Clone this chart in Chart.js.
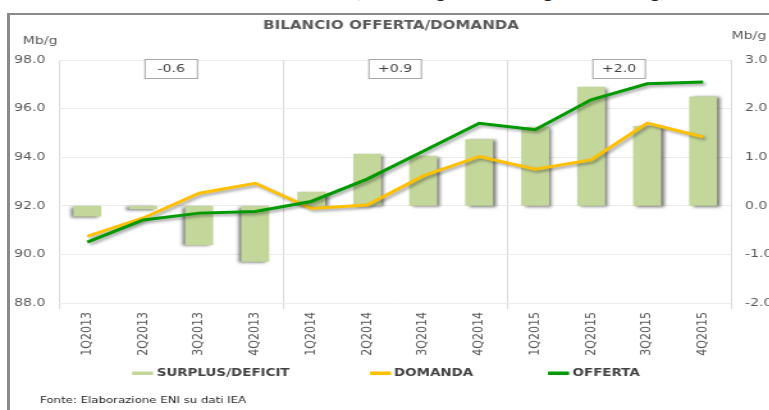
<!DOCTYPE html>
<html>
<head>
<meta charset="utf-8">
<script src="https://cdn.jsdelivr.net/npm/chart.js@4.4.1/dist/chart.umd.min.js"></script>
<style>
  html, body { margin: 0; padding: 0; background: #fff; }
  #pagina { position: relative; width: 769px; height: 410px; overflow: hidden; background: #fff; }
  #cornice { position: absolute; left: 7px; top: 13px; width: 800px; height: 420px;
    border-top: 2px solid #8a8a8a; border-left: 3px solid #8a8a8a; }
  #sopra { position: absolute; left: 354px; top: -24px; font: italic 22px 'Liberation Serif', serif;
    color: #222; white-space: nowrap; }
  /* il grafico originale è stirato in orizzontale */
  #scala { position: absolute; left: 0; top: 0; width: 620px; height: 410px;
    transform: scaleX(1.28); transform-origin: 0 0; }
</style>
</head>
<body>
<div id="pagina">
  <div id="sopra">(-0,6 Mb/g; +0,9 Mb/g; +2,0 Mb/g)</div>
  <div id="cornice"></div>
  <div id="scala"><canvas id="chartBilancio"></canvas></div>
</div>
<script>
/* =====================================================================
   Bilancio offerta/domanda petrolio — trimestri 2013-2015
   ===================================================================== */
const trimestri = ['1Q2013', '2Q2013', '3Q2013', '4Q2013', '1Q2014', '2Q2014',
                   '3Q2014', '4Q2014', '1Q2015', '2Q2015', '3Q2015', '4Q2015'];
const surplus = [-0.22, -0.07, -0.81, -1.15, 0.29, 1.07, 1.03, 1.37, 1.62, 2.45, 1.64, 2.25];
const domanda = [90.74, 91.50, 92.52, 92.93, 91.89, 92.03, 93.23, 94.03, 93.51, 93.89, 95.40, 94.83];
const offerta = [90.51, 91.42, 91.70, 91.77, 92.18, 93.10, 94.25, 95.40, 95.13, 96.36, 97.02, 97.09];
const mediaAnnua = ['-0.6', '+0.9', '+2.0'];   // saldo medio per anno
const titolo = 'BILANCIO OFFERTA/DOMANDA';
const unita = 'Mb/g';
const fonte = 'Fonte: Elaborazione ENI su dati IEA';

const COR = { barra: '#c4d79b', domanda: '#ffc000', offerta: '#009900', testo: '#595959', griglia: '#ececec', sezioni: '#d9d9d9' };
const FONT = '"DejaVu Sans", Verdana, sans-serif';

// ombre sotto barre e linee, come nell'originale
const ombre = {
  id: 'ombre',
  beforeDatasetDraw(chart, args) {
    const ctx = chart.ctx;
    const ds = chart.data.datasets[args.index];
    if (ds.type === 'bar') {
      args.meta.data.forEach((el, i) => {
        ctx.save();
        ctx.shadowColor = 'rgba(0,0,0,0.55)';
        ctx.shadowBlur = 3;
        ctx.shadowOffsetX = surplus[i] < 0 ? -2.5 : 2.5;
        ctx.shadowOffsetY = 1;
        el.draw(ctx);
        ctx.restore();
      });
      return false;
    }
    ctx.save();
    ctx.shadowColor = 'rgba(0,0,0,0.35)';
    ctx.shadowBlur = 3; ctx.shadowOffsetX = 2; ctx.shadowOffsetY = 2;
  },
  afterDatasetDraw(chart) { chart.ctx.restore(); }
};

// titolo, unità, box con la media annua, legenda e fonte
const testi = {
  id: 'testi',
  afterDatasetsDraw(chart) {
    const { ctx, scales: { x } } = chart;
    ctx.save();
    ctx.fillStyle = COR.testo;
    ctx.font = `bold 11.8px ${FONT}`;
    ctx.textAlign = 'center'; ctx.textBaseline = 'middle';
    ctx.fillText(titolo, 305.5, 25.5);

    ctx.font = `11px ${FONT}`;
    ctx.textAlign = 'left'; ctx.textBaseline = 'alphabetic';
    ctx.fillText(unita, 17.7, 44);
    ctx.fillText(unita, 571.6, 39);

    // box media annua
    ctx.textAlign = 'center'; ctx.textBaseline = 'middle';
    mediaAnnua.forEach((t, k) => {
      const cx = x.getPixelForValue(k * 4 + 1.5);
      const w = 41, h = 19, top = 59.5;
      ctx.fillStyle = '#fff';
      ctx.fillRect(cx - w / 2, top, w, h);
      ctx.strokeStyle = '#a6a6a6'; ctx.lineWidth = 1;
      ctx.strokeRect(cx - w / 2, top, w, h);
      ctx.fillStyle = '#404040';
      ctx.fillText(t, cx, top + h / 2 + 0.5);
    });

    // legenda
    const posLeg = [[103.1, 122.4], [289, 307.8], [428.1, 447.3]];
    ctx.font = `bold 10.5px ${FONT}`;
    ctx.textAlign = 'left';
    chart.data.datasets.forEach((ds, i) => {
      const [xs, xt] = posLeg[i];
      ctx.fillStyle = ds.legendColor;
      ctx.fillRect(xs, 371.5, 16.5, 3.5);
      ctx.fillStyle = '#404040';
      ctx.fillText(ds.label, xt, 373.5);
    });

    ctx.font = `9.2px ${FONT}`;
    ctx.fillStyle = '#262626';
    ctx.textBaseline = 'alphabetic';
    ctx.fillText(fonte, 31.25, 402.5);
    ctx.restore();
  }
};

new Chart(document.getElementById('chartBilancio'), {
  data: {
    labels: trimestri,
    datasets: [
      { type: 'bar', label: 'SURPLUS/DEFICIT', data: surplus, yAxisID: 'y1', backgroundColor: COR.barra,
        legendColor: COR.barra, barPercentage: 0.5, categoryPercentage: 1, order: 3 },
      { type: 'line', label: 'DOMANDA', data: domanda, yAxisID: 'y', borderColor: COR.domanda,
        legendColor: COR.domanda, borderWidth: 3, pointRadius: 0, tension: 0, order: 2 },
      { type: 'line', label: 'OFFERTA', data: offerta, yAxisID: 'y', borderColor: COR.offerta,
        legendColor: COR.offerta, borderWidth: 3, pointRadius: 0, tension: 0, order: 1 }
    ]
  },
  plugins: [ombre, testi],
  options: {
    responsive: true, maintainAspectRatio: false, animation: false,
    layout: { padding: { left: 0, right: 5.6, top: 60, bottom: 51.3 } },
    plugins: { legend: { display: false }, tooltip: { enabled: false } },
    scales: {
      x: {
        offset: true,
        grid: { offset: true, tickLength: 6, lineWidth: 1,
          color: c => (c.index === undefined || c.index % 4 === 0) ? COR.sezioni : 'transparent' },
        border: { display: false },
        ticks: { autoSkip: false, minRotation: 90, maxRotation: 90, padding: 3,
          color: COR.testo, font: { family: FONT, size: 11 } }
      },
      y: {
        position: 'left', min: 88, max: 98,
        grid: { color: COR.griglia, drawTicks: false },
        border: { display: false },
        ticks: { stepSize: 2, padding: 10.9, color: COR.testo, font: { family: FONT, size: 11 },
          callback: v => v.toFixed(1) }
      },
      y1: {
        position: 'right', min: -2, max: 3,
        grid: { display: false, drawOnChartArea: false, drawTicks: false },
        border: { display: false },
        ticks: { stepSize: 1, padding: 10.9, color: COR.testo, font: { family: FONT, size: 11 },
          callback: v => v.toFixed(1) }
      }
    }
  }
});
</script>
</body>
</html>
